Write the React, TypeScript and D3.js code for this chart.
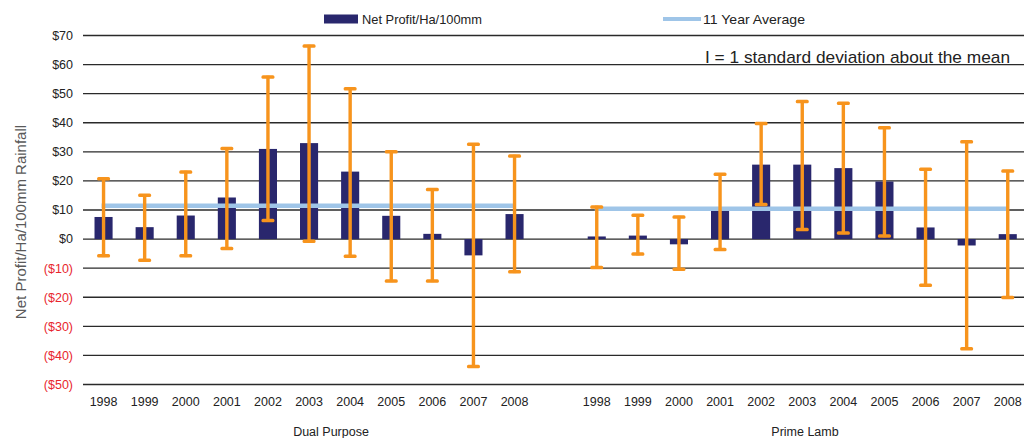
import React from "react";
import * as d3 from "d3";

const years = ["1998", "1999", "2000", "2001", "2002", "2003", "2004", "2005", "2006", "2007", "2008"];
const groups = ["Dual Purpose", "Prime Lamb"];

const dualProfit = [7.6, 4.1, 8.1, 14.3, 31.0, 33.0, 23.2, 8.0, 1.8, -5.6, 8.6];
const dualHigh = [21.2, 15.5, 23.5, 31.6, 56.2, 66.8, 52.1, 30.5, 17.5, 33.0, 29.0];
const dualLow = [-6.2, -7.7, -6.2, -3.7, 6.0, -1.2, -6.3, -14.8, -14.8, -44.2, -11.7];
const dualAvg = 11.45;

const lambProfit = [0.9, 1.2, -1.8, 10.0, 25.6, 25.6, 24.4, 19.8, 4.0, -2.2, 1.7];
const lambHigh = [11.5, 8.6, 8.0, 22.7, 40.2, 47.7, 47.1, 38.7, 24.4, 33.9, 23.8];
const lambLow = [-10.2, -5.6, -10.8, -4.0, 11.5, 2.9, 1.7, 0.6, -16.3, -38.1, -20.5];
const lambAvg = 10.4;

const yTicks = [70, 60, 50, 40, 30, 20, 10, 0, -10, -20, -30, -40, -50];

const legendLabels = ["Net Profit/Ha/100mm", "11 Year Average"];
const yTitle = "Net Profit/Ha/100mm Rainfall";
const note = "I = 1 standard deviation about the mean";

const W = 1024;
const H = 438;
const NAVY = "#29276d";
const ORANGE = "#f7941d";
const LIGHTBLUE = "#9fc5e8";
const FONT = "'Liberation Sans', Arial, sans-serif";

type Row = { key: string; year: string; value: number; hi: number; lo: number; group: number };

const rows: Row[] = [];
years.forEach((yr, i) => rows.push({ key: `DP-${yr}`, year: yr, value: dualProfit[i], hi: dualHigh[i], lo: dualLow[i], group: 0 }));
const gapKey = "gap";
years.forEach((yr, i) => rows.push({ key: `PL-${yr}`, year: yr, value: lambProfit[i], hi: lambHigh[i], lo: lambLow[i], group: 1 }));
const domain = [...rows.slice(0, 11).map((r) => r.key), gapKey, ...rows.slice(11).map((r) => r.key)];

export default function App() {
  const x0 = 83;
  const step = 41.1;
  const pi = 0.56;
  const x = d3
    .scaleBand<string>()
    .domain(domain)
    .range([x0, x0 + step * domain.length])
    .paddingInner(pi)
    .paddingOuter(pi / 2);
  const y = d3.scaleLinear().domain([-50, 70]).range([384.5, 35.5]);
  const bw = x.bandwidth();
  const cx = (k: string) => (x(k) as number) + bw / 2;

  const avgs = [dualAvg, lambAvg];
  const groupRows = [rows.filter((r) => r.group === 0), rows.filter((r) => r.group === 1)];
  const groupLabelX = [331, 805];

  const capW = 13;
  const capH = 3.5;

  return (
    <svg width={W} height={H} style={{ position: "absolute", left: 0, top: 0, background: "#fff" }} fontFamily={FONT}>
      <rect x={0} y={0} width={W} height={H} fill="#fff" />
      {/* gridlines */}
      {yTicks.map((t) => (
        <line key={`g${t}`} x1={x0} x2={x0 + step * domain.length} y1={y(t)} y2={y(t)} stroke="#2a2a2a" strokeWidth={1.4} />
      ))}
      {/* y tick labels */}
      {yTicks.map((t) => (
        <text
          key={`t${t}`}
          x={73}
          y={y(t)}
          dy="0.35em"
          textAnchor="end"
          fontSize={12.5}
          fill={t < 0 ? "#e8262d" : "#222"}
        >
          {t < 0 ? `($${-t})` : `$${t}`}
        </text>
      ))}
      {/* y title */}
      <text
        transform={`translate(21,222) rotate(-90)`}
        textAnchor="middle"
        dy="0.35em"
        fontSize={15}
        fill="#595959"
      >
        {yTitle}
      </text>
      {/* bars */}
      {rows.map((r) => (
        <rect
          key={`b${r.key}`}
          x={x(r.key)}
          width={bw}
          y={y(Math.max(0, r.value))}
          height={Math.abs(y(r.value) - y(0))}
          fill={NAVY}
        />
      ))}
      {/* average lines */}
      {groupRows.map((gr, gi) => (
        <line
          key={`a${gi}`}
          x1={cx(gr[0].key) - 2}
          x2={cx(gr[gr.length - 1].key) + 1}
          y1={y(avgs[gi])}
          y2={y(avgs[gi])}
          stroke={LIGHTBLUE}
          strokeWidth={4.5}
        />
      ))}
      {/* error bars */}
      {rows.map((r) => {
        const c = cx(r.key);
        return (
          <g key={`e${r.key}`} fill={ORANGE}>
            <rect x={c - 1.7} width={3.4} y={y(r.hi)} height={y(r.lo) - y(r.hi)} />
            <rect x={c - capW / 2} width={capW} y={y(r.hi) - 0.5} height={capH} rx={1.5} />
            <rect x={c - capW / 2} width={capW} y={y(r.lo) - capH + 0.5} height={capH} rx={1.5} />
          </g>
        );
      })}
      {/* x labels */}
      {rows.map((r) => (
        <text key={`x${r.key}`} x={cx(r.key)} y={402} dy="0.35em" textAnchor="middle" fontSize={12.5} fill="#222">
          {r.year}
        </text>
      ))}
      {/* group labels */}
      {groups.map((g, gi) => (
        <text key={`gl${gi}`} x={groupLabelX[gi]} y={432} dy="0.35em" textAnchor="middle" fontSize={12.5} fill="#222">
          {g}
        </text>
      ))}
      {/* legend */}
      <rect x={324} y={14.5} width={34} height={9} fill={NAVY} />
      <text x={362} y={19} dy="0.35em" fontSize={13} fill="#222" textLength={120} lengthAdjust="spacingAndGlyphs">
        {legendLabels[0]}
      </text>
      <line x1={663} x2={701} y1={19} y2={19} stroke={LIGHTBLUE} strokeWidth={4} />
      <text x={703} y={19} dy="0.35em" fontSize={13.5} fill="#222" textLength={102} lengthAdjust="spacingAndGlyphs">
        {legendLabels[1]}
      </text>
      {/* note */}
      <text x={705} y={57} dy="0.35em" fontSize={17} fill="#222" textLength={305} lengthAdjust="spacingAndGlyphs">
        {note}
      </text>
    </svg>
  );
}
